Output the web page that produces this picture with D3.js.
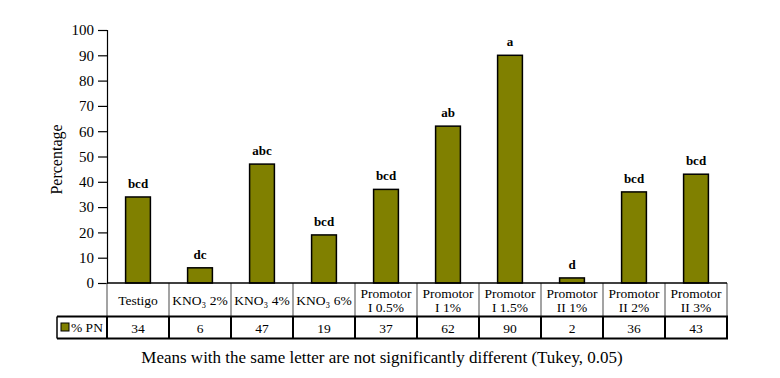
<!DOCTYPE html>
<html><head><meta charset="utf-8">
<script src="https://cdn.jsdelivr.net/npm/d3@7"></script>
<style>body{margin:0;background:#fff}svg{display:block}text{font-family:"Liberation Serif","Times New Roman",serif}</style>
</head><body><svg id="c" width="780" height="378"></svg>
<script>
const categories = [["Testigo"],["KNO₃ 2%"],["KNO₃ 4%"],["KNO₃ 6%"],["Promotor","I 0.5%"],["Promotor","I 1%"],["Promotor","I 1.5%"],["Promotor","II 1%"],["Promotor","II 2%"],["Promotor","II 3%"]];
const values = [34,6,47,19,37,62,90,2,36,43];
const letters = ["bcd","dc","abc","bcd","bcd","ab","a","d","bcd","bcd"];
const yTicks = [0,10,20,30,40,50,60,70,80,90,100];
const seriesName = "% PN";
const caption = "Means with the same letter are not significantly different (Tukey, 0.05)";

const svg = d3.select("#c");
const x0 = 107, x1 = 727, yTop = 30, yBase = 283;
const rowCat = 316.5, rowVal = 338.5, legL = 57;
const x = d3.scaleBand().domain(d3.range(values.length)).range([x0, x1]).padding(0);
const y = d3.scaleLinear().domain([0,100]).range([yBase, yTop]);
const color = "#808000";

// y axis
const yAxis = d3.axisLeft(y).tickValues(yTicks).tickSize(9).tickPadding(4);
const gy = svg.append("g").attr("transform", `translate(${x0},0)`).call(yAxis);
gy.attr("font-family", null).attr("font-size", null);
gy.select(".domain").attr("stroke","#000").attr("stroke-width",1.2);
gy.selectAll(".tick line").attr("stroke","#000").attr("stroke-width",1.2);
gy.selectAll(".tick text").attr("font-size",15).attr("fill","#000");

svg.append("text").attr("transform",`translate(62,${(yTop+yBase)/2+3}) rotate(-90)`)
  .attr("text-anchor","middle").attr("font-size",16).text("Percentage");

// bars
const bw = x.bandwidth()*0.4;
svg.append("g").selectAll("rect").data(values).join("rect")
  .attr("x",(d,i)=>x(i)+x.bandwidth()/2-bw/2).attr("y",d=>y(d))
  .attr("width",bw).attr("height",d=>yBase-y(d))
  .attr("fill",color).attr("stroke","#000").attr("stroke-width",1.5);

svg.append("g").selectAll("text").data(values).join("text")
  .attr("x",(d,i)=>x(i)+x.bandwidth()/2).attr("y",d=>y(d)-9)
  .attr("text-anchor","middle").attr("font-size",13).attr("font-weight","bold")
  .text((d,i)=>letters[i]);

// table
const t = svg.append("g");
d3.range(values.length+1).forEach(i=>{
  const xx = i<values.length ? x(i) : x1;
  t.append("line").attr("x1",xx).attr("x2",xx).attr("y1",yBase).attr("y2",rowCat).attr("stroke","#666").attr("stroke-width",1.2);
  t.append("line").attr("x1",xx).attr("x2",xx).attr("y1",rowCat).attr("y2",rowVal).attr("stroke","#000").attr("stroke-width",2);
});
t.append("line").attr("x1",legL).attr("x2",legL).attr("y1",rowCat).attr("y2",rowVal).attr("stroke","#000").attr("stroke-width",1.5);
t.append("line").attr("x1",legL).attr("x2",x1+1).attr("y1",rowCat).attr("y2",rowCat).attr("stroke","#000").attr("stroke-width",2);
t.append("line").attr("x1",legL).attr("x2",x1+1).attr("y1",rowVal).attr("y2",rowVal).attr("stroke","#000").attr("stroke-width",2);
t.append("line").attr("x1",x0).attr("x2",x1).attr("y1",yBase).attr("y2",yBase).attr("stroke","#000").attr("stroke-width",1.5);

categories.forEach((lines,i)=>{
  const cx = x(i)+x.bandwidth()/2;
  const cy = (yBase+rowCat)/2;
  const txt = t.append("text").attr("x",cx).attr("text-anchor","middle").attr("font-size",13.5);
  if(lines.length===1){ txt.attr("y",cy+5).text(lines[0]); }
  else {
    txt.append("tspan").attr("x",cx).attr("y",cy-2).text(lines[0]);
    txt.append("tspan").attr("x",cx).attr("y",cy+12).text(lines[1]);
  }
  t.append("text").attr("x",cx).attr("y",(rowCat+rowVal)/2+5).attr("text-anchor","middle").attr("font-size",13.5).text(values[i]);
});
t.append("rect").attr("x",61).attr("y",323).attr("width",8).attr("height",8).attr("fill",color).attr("stroke","#000").attr("stroke-width",1);
t.append("text").attr("x",71).attr("y",332).attr("font-size",13.5).text(seriesName);

svg.append("text").attr("x",382).attr("y",363).attr("text-anchor","middle").attr("font-size",17).text(caption);
</script></body></html>
